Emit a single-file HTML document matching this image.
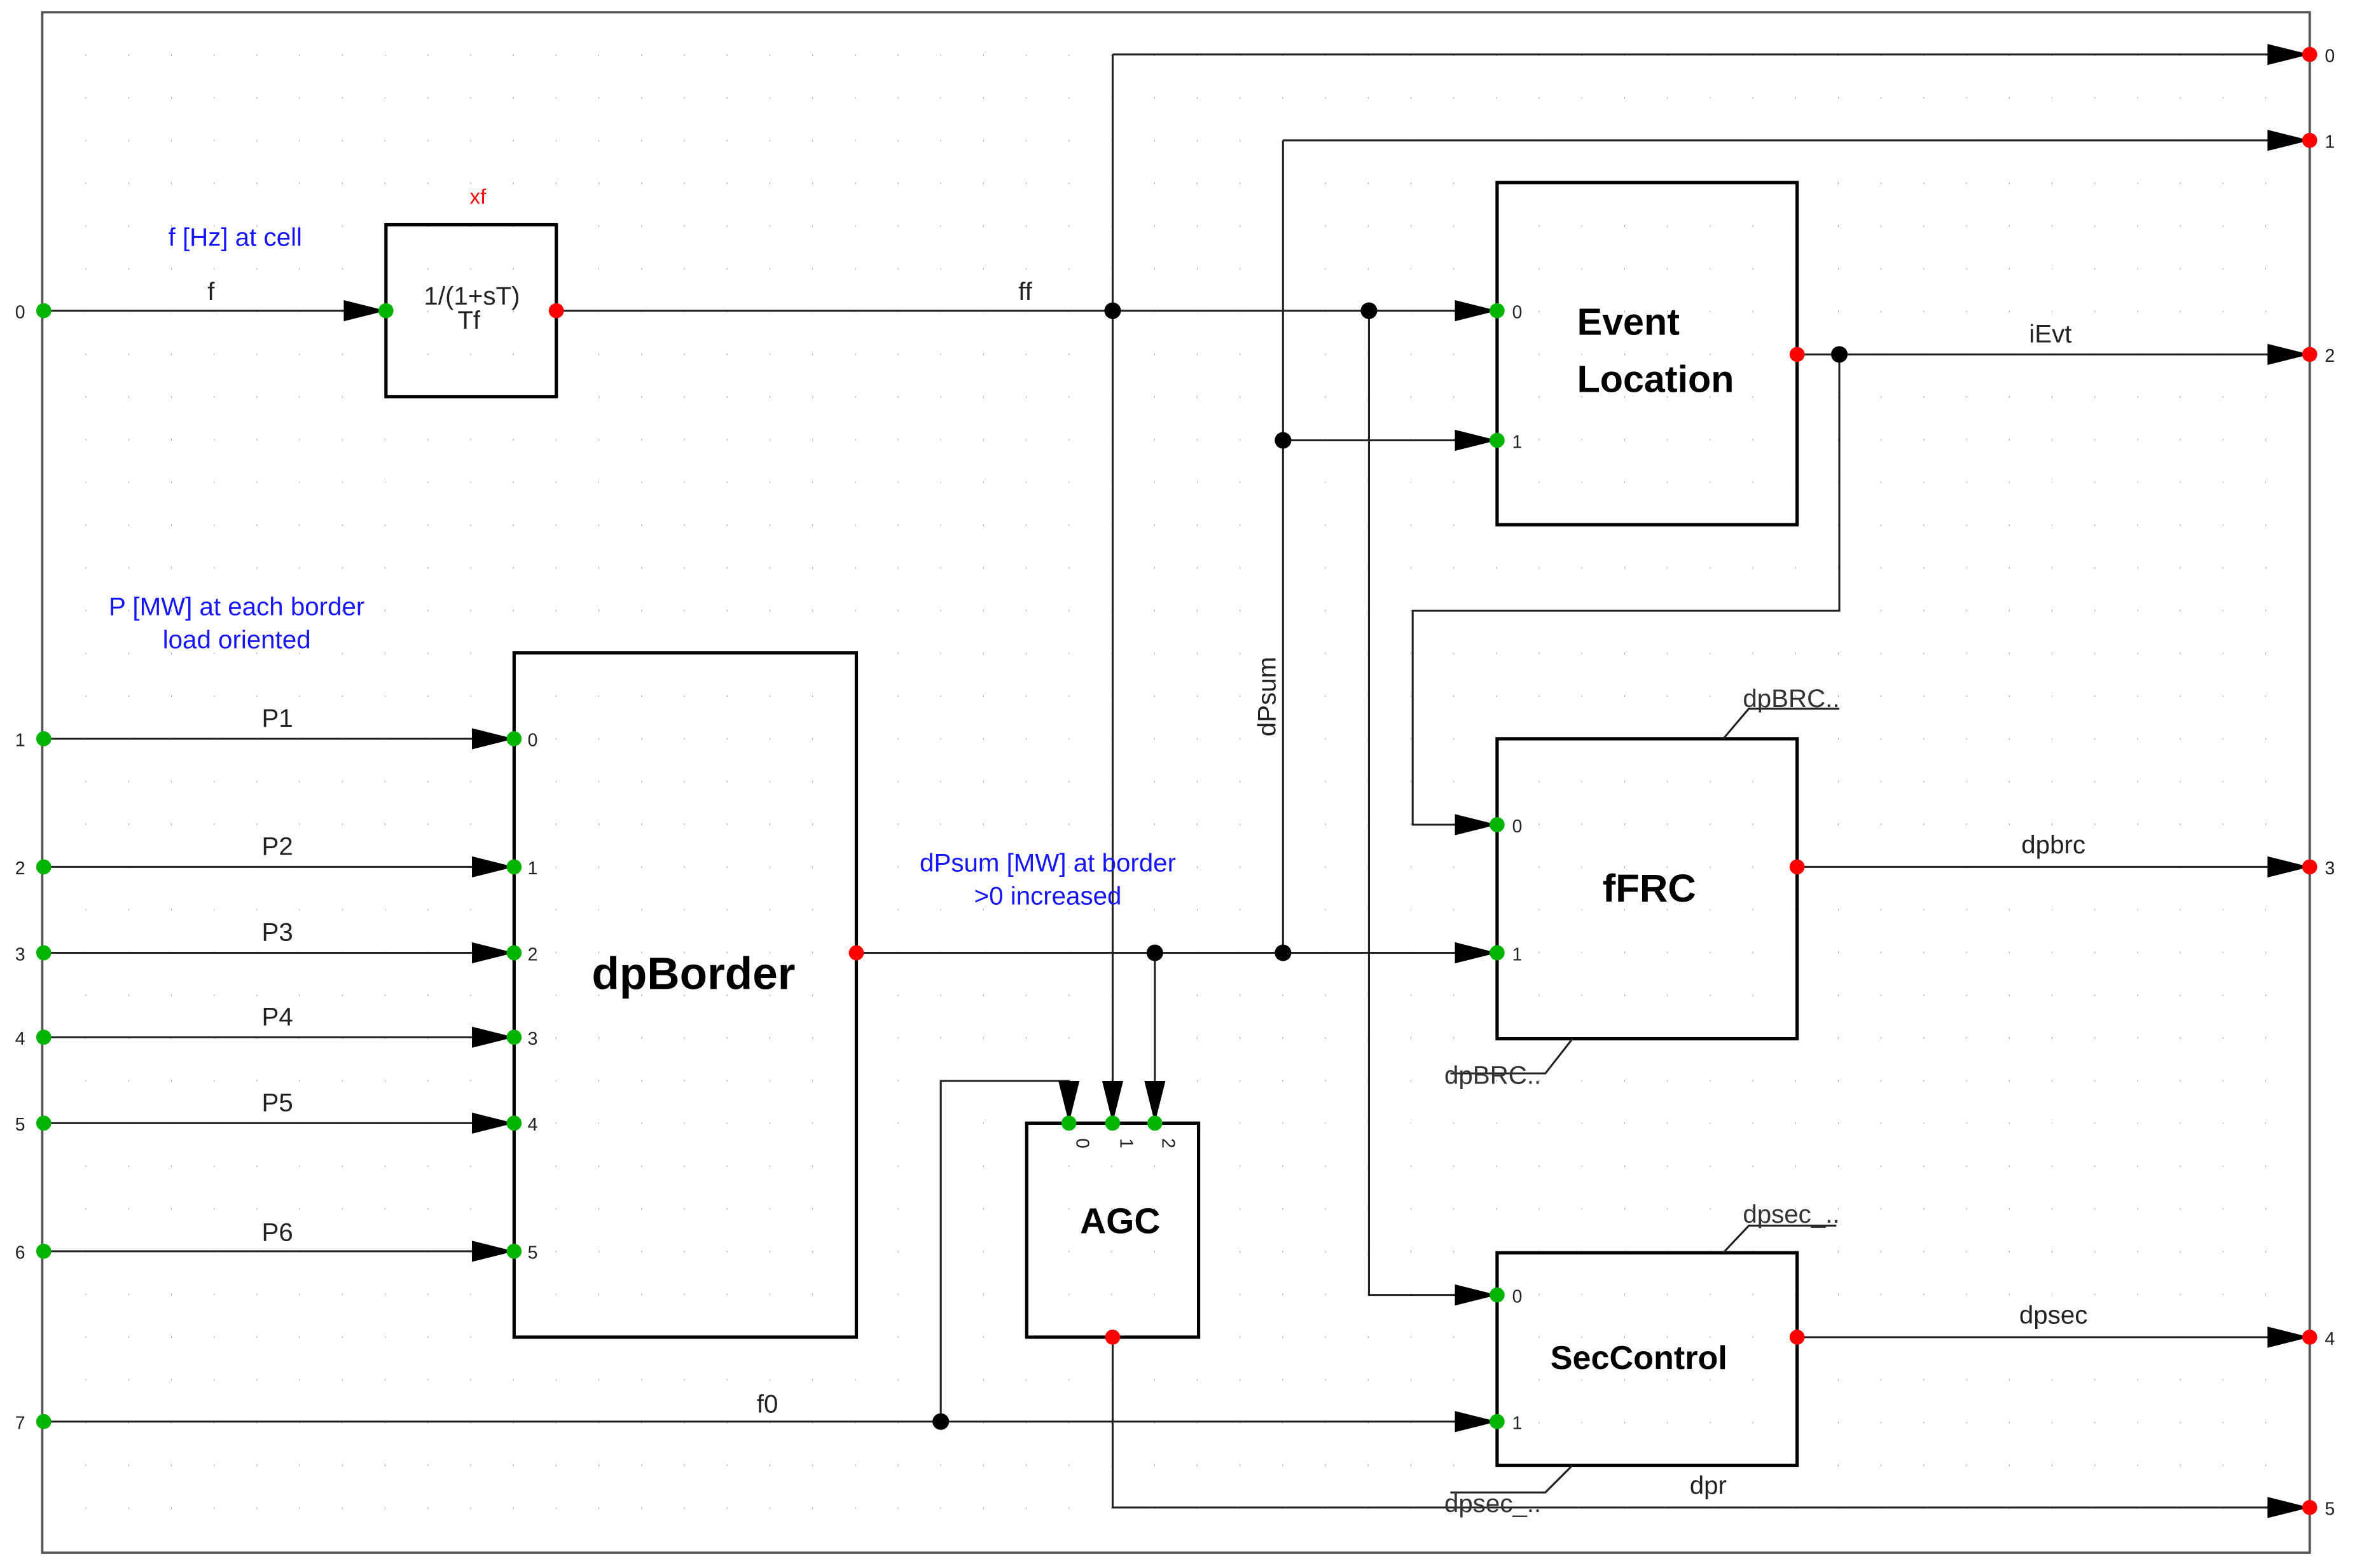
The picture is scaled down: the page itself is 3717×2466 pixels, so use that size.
<!DOCTYPE html>
<html><head><meta charset="utf-8"><style>
html,body{margin:0;padding:0;background:#fff;}
svg{display:block;}
text{font-family:"Liberation Sans",sans-serif;}
</style></head><body>
<svg width="3717" height="2466" viewBox="0 0 1568 1040" xmlns="http://www.w3.org/2000/svg">
<defs>
<pattern id="g" x="0.5" y="7.5" width="28.35" height="28.35" patternUnits="userSpaceOnUse">
<rect x="28" y="0" width="0.8" height="1.2" fill="#888"/>
</pattern>
</defs>
<rect x="0" y="0" width="1568" height="1040" fill="#fff"/>
<rect x="30" y="10" width="1500" height="1018" fill="url(#g)"/>
<g fill="none" stroke="#555" stroke-width="1.6">
<path d="M28,8 H1532 V1030 H28 Z"/>
</g>
<!-- blocks -->
<g fill="none" stroke="#000" stroke-width="2.2">
<rect x="256" y="149" width="113" height="114"/>
<rect x="993" y="121" width="199" height="227"/>
<rect x="993" y="490" width="199" height="199"/>
<rect x="993" y="831" width="199" height="141"/>
<rect x="341" y="433" width="227" height="454"/>
<rect x="681" y="745" width="114" height="142"/>
</g>
<!-- wires -->
<g fill="none" stroke="#222" stroke-width="1.3">
<path d="M29,206 H256"/>
<path d="M369,206 H993"/>
<path d="M738,36 H1532"/>
<path d="M738,36 V745"/>
<path d="M851,93 H1532"/>
<path d="M851,93 V632"/>
<path d="M851,292 H993"/>
<path d="M908,206 V859 H993"/>
<path d="M1192,235 H1532"/>
<path d="M1220,235 V405 H937 V547 H993"/>
<path d="M1192,575 H1532"/>
<path d="M1192,887 H1532"/>
<path d="M738,887 V1000 H1532"/>
<path d="M568,632 H993"/>
<path d="M766,632 V745"/>
<path d="M29,943 H993"/>
<path d="M624,943 V717 H709 V745"/>
<path d="M29,490 H341 M29,575 H341 M29,632 H341 M29,688 H341 M29,745 H341 M29,830 H341"/>
<path d="M1143,490 L1160,470 H1220"/>
<path d="M1043,689 L1025,712 H962"/>
<path d="M1143,831 L1160,813 H1218"/>
<path d="M1043,972 L1025,990 H962"/>
</g>
<!-- arrowheads -->
<g fill="#000">
<polygon points="228,199 256,206 228,213"/>
<polygon points="965,199 993,206 965,213"/>
<polygon points="965,285 993,292 965,299"/>
<polygon points="965,540 993,547 965,554"/>
<polygon points="965,625 993,632 965,639"/>
<polygon points="965,852 993,859 965,866"/>
<polygon points="965,936 993,943 965,950"/>
<polygon points="1504,29 1532,36 1504,43"/>
<polygon points="1504,86 1532,93 1504,100"/>
<polygon points="1504,228 1532,235 1504,242"/>
<polygon points="1504,568 1532,575 1504,582"/>
<polygon points="1504,880 1532,887 1504,894"/>
<polygon points="1504,993 1532,1000 1504,1007"/>
<polygon points="313,483 341,490 313,497"/>
<polygon points="313,568 341,575 313,582"/>
<polygon points="313,625 341,632 313,639"/>
<polygon points="313,681 341,688 313,695"/>
<polygon points="313,738 341,745 313,752"/>
<polygon points="313,823 341,830 313,837"/>
<polygon points="702,717 709,745 716,717"/>
<polygon points="731,717 738,745 745,717"/>
<polygon points="759,717 766,745 773,717"/>
</g>
<!-- junctions -->
<g fill="#000">
<circle cx="738" cy="206" r="5.5"/><circle cx="908" cy="206" r="5.5"/>
<circle cx="851" cy="292" r="5.5"/><circle cx="1220" cy="235" r="5.5"/>
<circle cx="766" cy="632" r="5.5"/><circle cx="851" cy="632" r="5.5"/>
<circle cx="624" cy="943" r="5.5"/>
</g>
<!-- green ports -->
<g fill="#00b400">
<circle cx="29" cy="206" r="5"/><circle cx="29" cy="490" r="5"/><circle cx="29" cy="575" r="5"/>
<circle cx="29" cy="632" r="5"/><circle cx="29" cy="688" r="5"/><circle cx="29" cy="745" r="5"/>
<circle cx="29" cy="830" r="5"/><circle cx="29" cy="943" r="5"/>
<circle cx="256" cy="206" r="5"/>
<circle cx="993" cy="206" r="5"/><circle cx="993" cy="292" r="5"/>
<circle cx="993" cy="547" r="5"/><circle cx="993" cy="632" r="5"/>
<circle cx="993" cy="859" r="5"/><circle cx="993" cy="943" r="5"/>
<circle cx="341" cy="490" r="5"/><circle cx="341" cy="575" r="5"/><circle cx="341" cy="632" r="5"/>
<circle cx="341" cy="688" r="5"/><circle cx="341" cy="745" r="5"/><circle cx="341" cy="830" r="5"/>
<circle cx="709" cy="745" r="5"/><circle cx="738" cy="745" r="5"/><circle cx="766" cy="745" r="5"/>
</g>
<!-- red ports -->
<g fill="#f00">
<circle cx="369" cy="206" r="5"/><circle cx="1192" cy="235" r="5"/><circle cx="1192" cy="575" r="5"/>
<circle cx="1192" cy="887" r="5"/><circle cx="568" cy="632" r="5"/><circle cx="738" cy="887" r="5"/>
<circle cx="1532" cy="36" r="5"/><circle cx="1532" cy="93" r="5"/><circle cx="1532" cy="235" r="5"/>
<circle cx="1532" cy="575" r="5"/><circle cx="1532" cy="887" r="5"/><circle cx="1532" cy="1000" r="5"/>
</g>
<!-- port numbers -->
<g font-size="12" fill="#222">
<text x="10" y="211">0</text><text x="10" y="495">1</text><text x="10" y="580">2</text>
<text x="10" y="637">3</text><text x="10" y="693">4</text><text x="10" y="750">5</text>
<text x="10" y="835">6</text><text x="10" y="948">7</text>
<text x="1542" y="41">0</text><text x="1542" y="98">1</text><text x="1542" y="240">2</text>
<text x="1542" y="580">3</text><text x="1542" y="892">4</text><text x="1542" y="1005">5</text>
<text x="1003" y="211">0</text><text x="1003" y="297">1</text>
<text x="1003" y="552">0</text><text x="1003" y="637">1</text>
<text x="1003" y="864">0</text><text x="1003" y="948">1</text>
<text x="350" y="495">0</text><text x="350" y="580">1</text><text x="350" y="637">2</text>
<text x="350" y="693">3</text><text x="350" y="750">4</text><text x="350" y="835">5</text>
<text transform="translate(714,755) rotate(90)">0</text>
<text transform="translate(743,755) rotate(90)">1</text>
<text transform="translate(771,755) rotate(90)">2</text>
</g>
<!-- wire labels -->
<g font-size="17" fill="#222" text-anchor="middle">
<text x="140" y="199">f</text>
<text x="680" y="199">ff</text>
<text x="1360" y="227">iEvt</text>
<text x="1362" y="566">dpbrc</text>
<text x="1362" y="878">dpsec</text>
<text x="1133" y="991">dpr</text>
<text x="509" y="937">f0</text>
<text x="184" y="482">P1</text><text x="184" y="567">P2</text><text x="184" y="624">P3</text>
<text x="184" y="680">P4</text><text x="184" y="737">P5</text><text x="184" y="823">P6</text>
<text transform="translate(846,462) rotate(-90)">dPsum</text>
<text x="313" y="202">1/(1+sT)</text>
<text x="311" y="218">Tf</text>
</g>
<g font-size="17" fill="#333">
<text x="1156" y="469">dpBRC..</text>
<text x="958" y="719">dpBRC..</text>
<text x="1156" y="811">dpsec_..</text>
<text x="958" y="1003">dpsec_..</text>
</g>
<text x="317" y="135" font-size="14" fill="#f00" text-anchor="middle">xf</text>
<g font-size="17" fill="#1515ff" text-anchor="middle">
<text x="156" y="163">f [Hz] at cell</text>
<text x="157" y="408">P [MW] at each border</text>
<text x="157" y="430">load oriented</text>
<text x="695" y="578">dPsum [MW] at border</text>
<text x="695" y="600">&gt;0 increased</text>
</g>
<!-- block titles -->
<g font-family="'DejaVu Sans','Liberation Sans',sans-serif" font-weight="bold" fill="#000">
<text x="1046" y="222" font-size="25">Event</text>
<text x="1046" y="260" font-size="25">Location</text>
<text x="1094" y="598" font-size="26" text-anchor="middle">fFRC</text>
<text x="1087" y="908" font-size="22" text-anchor="middle">SecControl</text>
<text x="460" y="656" font-size="30" text-anchor="middle">dpBorder</text>
<text x="743" y="818" font-size="24" text-anchor="middle">AGC</text>
</g>
</svg>
</body></html>
